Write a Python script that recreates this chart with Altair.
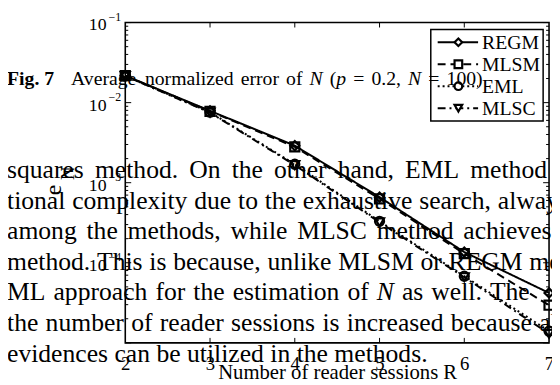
import altair as alt
import pandas as pd

# ---------------- data ----------------
R = [2, 3, 4, 5, 6, 7]
series = ["REGM", "MLSM", "EML", "MLSC"]
regm = [0.0217, 0.0079, 0.0029, 6.6e-4, 1.36e-4, 4.2e-5]
mlsm = [0.0217, 0.0078, 0.0028, 6.3e-4, 1.30e-4, 2.95e-5]
eml = [0.0215, 0.0076, 0.0017, 3.3e-4, 6.8e-5, 1.4e-5]
mlsc = [0.0215, 0.0075, 0.00166, 3.2e-4, 6.6e-5, 1.3e-5]

x_ticks = [3, 4, 5, 6]
x_labels = [2, 3, 4, 5, 6, 7]
y_decades = [1e-1, 1e-2, 1e-3, 1e-4]
y_exponents = ["\u22121", "\u22122", "\u22123", "\u22124"]
y_major = [1e-1, 1e-2, 1e-3, 1e-4, 1e-5]
y_minor = [m * 10.0 ** k for k in range(-5, -1) for m in range(2, 10)]

# overlaid page text; "_" prefix = italic, "+" prefix = no space before
body_lines = [
    "squares method. On the other hand, EML method",
    "tional complexity due to the exhaustive search, always",
    "among the methods, while MLSC method achieves",
    "method. This is because, unlike MLSM or REGM method",
    "ML approach for the estimation of _N as well. The",
    "the number of reader sessions is increased because all",
    "evidences can be utilized in the methods.",
]
caption_head = "Fig. 7"
caption_body = "Average normalized error of _N ( +_p = 0.2, _N = 100)"

# ---------------- layout ----------------
W, H = 430, 325
PL, PT = 119, 12           # padding => plot origin at page (127, 20)
SERIF = "Liberation Serif"
dashes = [[1, 0], [8, 5], [2, 3], [8, 4, 2, 4]]
shapes = ["diamond", "square", "circle", "triangle-down"]

# Times metrics (1/1000 em) used to justify the printed lines
TW = dict(zip("abcdefghijklmnopqrstuvwxyz",
              [444, 500, 444, 500, 444, 333, 500, 500, 278, 278, 500, 278, 778,
               500, 500, 500, 500, 333, 389, 278, 500, 500, 722, 500, 500, 444]))
TW.update(dict(zip("ABCDEFGHIJKLMNOPQRSTUVWXYZ",
                   [722, 667, 667, 722, 611, 556, 722, 722, 333, 389, 722, 611, 889,
                    722, 722, 556, 722, 667, 556, 611, 722, 722, 944, 722, 722, 611])))
TW.update({" ": 250, ",": 250, ".": 250, "(": 333, ")": 333, "=": 564, "0": 500,
           "1": 500, "2": 500, "7": 500})
TI = {"N": 667, "p": 500}


def wid(word, size, italic=False):
    tab = TI if italic else TW
    return sum(tab.get(c, TW.get(c, 500)) for c in word) * size / 1000.0


def layout(line, x0, anchor, size, min_space):
    """Place words from x0 so that the last word starts at `anchor` (None = natural)."""
    toks = []
    for t in line.split(" "):
        glue = t.startswith("+")
        t = t.lstrip("+")
        it = t.startswith("_")
        t = t.lstrip("_")
        toks.append((t, it, glue))
    nat = sum(wid(t, size, it) for t, it, _ in toks[:-1])
    ngaps = sum(1 for _, _, g in toks[1:] if not g)
    if anchor is None:
        sp = 0.25 * size
    else:
        sp = max(min_space * size, (anchor - x0 - nat) / max(ngaps, 1))
    out, x = [], x0
    for k, (t, it, glue) in enumerate(toks):
        if k > 0 and not glue:
            x += sp
        out.append((t, x, it))
        x += wid(t, size, it)
    return out


body_size, body_base0, body_step = 26, 178, 31
body_anchor = [477, 505, 470, 537, 497, 547, None]
cap_size, cap_base = 20, 83

rows = []
for i, (ln, an) in enumerate(zip(body_lines, body_anchor)):
    for t, x, it in layout(ln, 7, an, body_size, 0.2):
        rows.append({"t": t, "px": x - 8 - PL, "py": body_base0 + i * body_step - 8 - PT,
                     "grp": "bi" if it else "bn"})
rows.append({"t": caption_head, "px": 7 - 8 - PL, "py": cap_base - 8 - PT, "grp": "cb"})
cap_toks = layout(caption_body, 72, 453, cap_size, 0.2)
for t, x, it in cap_toks:
    rows.append({"t": t, "px": x - 8 - PL, "py": cap_base - 8 - PT, "grp": "ci" if it else "cn"})
words_df = pd.DataFrame(rows)

vals = {"REGM": regm, "MLSM": mlsm, "EML": eml, "MLSC": mlsc}
df = pd.DataFrame([
    {"series": s, "R": r, "e": v}
    for s in series for r, v in zip(R, vals[s])
])
one = pd.DataFrame({"k": [0]})

xs = alt.Scale(domain=[2, 7], nice=False, zero=False)
ys = alt.Scale(type="log", domain=[1e-5, 1e-1], nice=False)

X = alt.X("R:Q", scale=xs,
          axis=alt.Axis(values=x_labels, ticks=False, domain=False, grid=False,
                        labelFont=SERIF, labelFontSize=19, labelColor="black",
                        labelPadding=12, labelFlush=False, format="d",
                        title="Number of reader sessions R", titleFont=SERIF,
                        titleFontSize=21, titleFontWeight="normal", titleColor="black",
                        titleBaseline="alphabetic", titleY=36))
Y = alt.Y("e:Q", scale=ys, axis=None)

strokeDash = alt.StrokeDash("series:N", scale=alt.Scale(domain=series, range=dashes), legend=None)
shape = alt.Shape("series:N", scale=alt.Scale(domain=series, range=shapes), legend=None)

base = alt.Chart(df)
lines = base.mark_line(color="black", strokeWidth=2).encode(x=X, y=Y, strokeDash=strokeDash,
                                                              detail="series:N")
points = base.mark_point(color="black", filled=False, strokeWidth=2.2, size=85, opacity=1).encode(
    x=alt.X("R:Q", scale=xs), y=Y, shape=shape)

# ticks (inward, on all four sides)
xt = pd.DataFrame({"R": x_ticks})
xtick_b = alt.Chart(xt).mark_rule(color="black", strokeWidth=1).encode(
    x=alt.X("R:Q", scale=xs), y=alt.value(H), y2=alt.value(H - 5))
xtick_t = alt.Chart(xt).mark_rule(color="black", strokeWidth=1).encode(
    x=alt.X("R:Q", scale=xs), y=alt.value(0), y2=alt.value(5))
ymaj = pd.DataFrame({"e": y_major})
ymin = pd.DataFrame({"e": y_minor})
yt = []
for d, ln in ((ymaj, 6), (ymin, 3)):
    yt.append(alt.Chart(d).mark_rule(color="black", strokeWidth=1).encode(
        y=alt.Y("e:Q", scale=ys), x=alt.value(0), x2=alt.value(ln)))
    yt.append(alt.Chart(d).mark_rule(color="black", strokeWidth=1).encode(
        y=alt.Y("e:Q", scale=ys), x=alt.value(W), x2=alt.value(W - ln)))

# y tick labels 10^k
ylab = pd.DataFrame({"e": y_decades, "exp": y_exponents})
ylab_base = alt.Chart(ylab).mark_text(font=SERIF, fontSize=18, align="right", baseline="middle",
                                      color="black", dy=3).encode(
    y=alt.Y("e:Q", scale=ys), x=alt.value(-19), text=alt.value("10"))
ylab_exp = alt.Chart(ylab).mark_text(font=SERIF, fontSize=12, align="left", baseline="middle",
                                     color="black", dy=-6).encode(
    y=alt.Y("e:Q", scale=ys), x=alt.value(-17), text="exp:N")

# y title e_N
ytitle_e = alt.Chart(one).mark_text(font=SERIF, fontSize=24, angle=270, color="black").encode(
    x=alt.value(-72), y=alt.value(170), text=alt.value("e"))
ytitle_n = alt.Chart(one).mark_text(font=SERIF, fontSize=19, angle=270, color="black").encode(
    x=alt.value(-58), y=alt.value(153), text=alt.value("N"))

# legend (drawn manually)
leg = [alt.Chart(one).mark_rect(fill="white", stroke="black", strokeWidth=1.5).encode(
    x=alt.value(310), x2=alt.value(424), y=alt.value(7), y2=alt.value(100))]
for i, s in enumerate(series):
    ly = 20 + i * 22.3
    leg.append(alt.Chart(one).mark_rule(color="black", strokeWidth=2).encode(
        x=alt.value(317), x2=alt.value(358), y=alt.value(ly), strokeDash=alt.value(dashes[i])))
    leg.append(alt.Chart(one).mark_point(color="black", filled=False, strokeWidth=2.2, size=60,
                                         opacity=1, fill="white", fillOpacity=1).encode(
        x=alt.value(338), y=alt.value(ly), shape=alt.value(shapes[i])))
    leg.append(alt.Chart(one).mark_text(font=SERIF, fontSize=20, align="left", baseline="middle",
                                        color="black").encode(
        x=alt.value(362), y=alt.value(ly + 1), text=alt.value(s)))

# overlaid page text
def text_layer(grp, size, style="normal", weight="normal"):
    return alt.Chart(words_df).transform_filter(alt.datum.grp == grp).mark_text(
        font=SERIF, fontSize=size, align="left", baseline="alphabetic", color="black",
        fontStyle=style, fontWeight=weight).encode(
        x=alt.X("px:Q", scale=None, axis=None), y=alt.Y("py:Q", scale=None, axis=None), text="t:N")

texts = [
    text_layer("bn", body_size),
    text_layer("bi", body_size, style="italic"),
    text_layer("cn", cap_size),
    text_layer("ci", cap_size, style="italic"),
    text_layer("cb", cap_size, weight="bold"),
]

chart = alt.layer(
    lines, points, xtick_b, xtick_t, *yt, ylab_base, ylab_exp, ytitle_e, ytitle_n,
    *leg, *texts
).properties(
    width=W, height=H,
    autosize=alt.AutoSizeParams(type="none"),
    padding={"left": PL, "top": PT, "right": 3, "bottom": 40},
).configure_view(stroke="black", strokeWidth=1.6)

chart.save("out.html", embed_options={"renderer": "svg", "actions": False})
